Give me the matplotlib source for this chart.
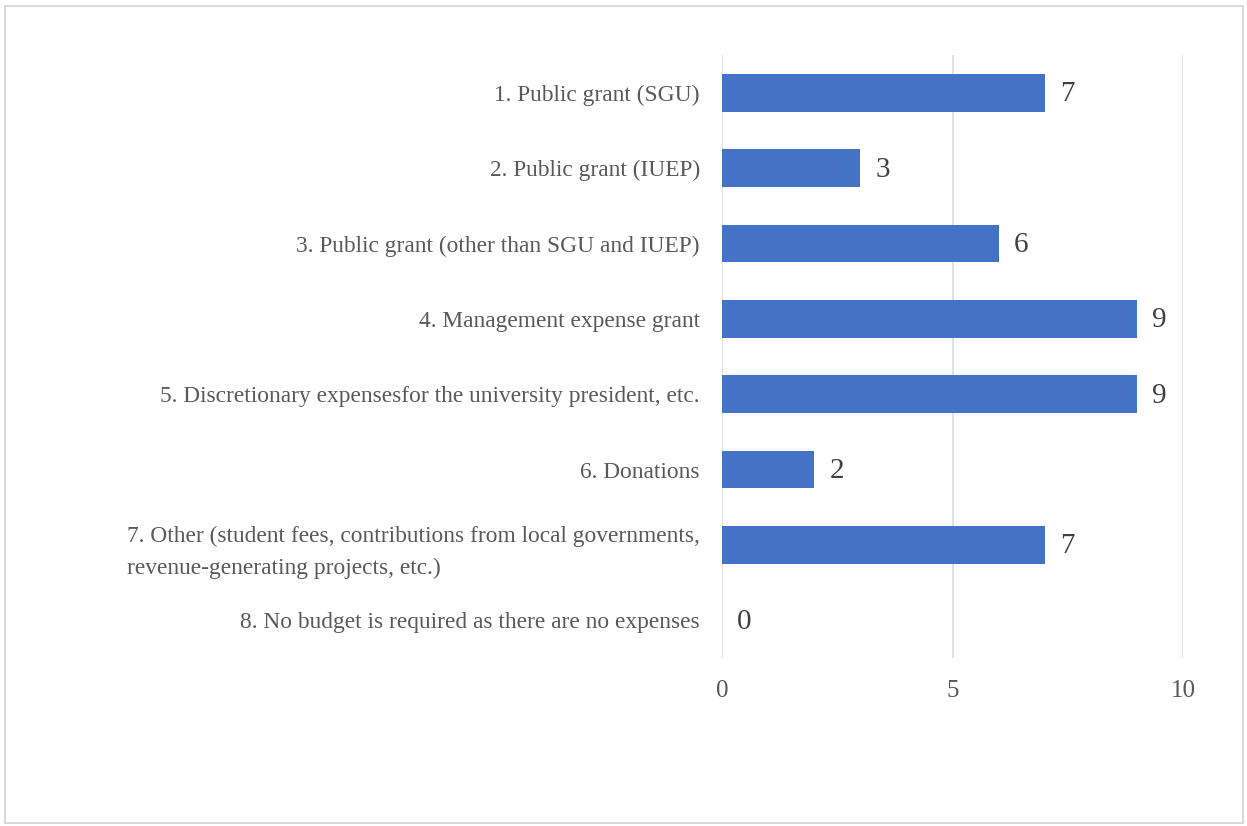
import matplotlib.pyplot as plt
from matplotlib.patches import Rectangle

categories = [
    '1. Public grant (SGU)',
    '2. Public grant (IUEP)',
    '3. Public grant (other than SGU and IUEP)',
    '4. Management expense grant',
    '5. Discretionary expensesfor the university president, etc.',
    '6. Donations',
    '7. Other (student fees, contributions from local governments,\nrevenue-generating projects, etc.)',
    '8. No budget is required as there are no expenses',
]
counts = [7, 3, 6, 9, 9, 2, 7, 0]
x_ticks = [0, 5, 10]

plt.rcParams['font.family'] = ['Liberation Serif', 'DejaVu Serif']

fig = plt.figure(figsize=(12.47, 8.26), dpi=100)
ax = fig.add_axes([0.579, 0.2034, 0.3697, 0.73])

pos = list(range(len(categories)))
ax.barh(pos, counts, height=0.5, color='#4472C4', zorder=3)
for y, v in zip(pos, counts):
    ax.text(v + 0.33, y + 0.02, str(v), va='center', ha='left', fontsize=21, color='#404040')

ax.set_xlim(0, 10)
ax.set_ylim(len(categories) - 0.5, -0.5)
ax.set_xticks(x_ticks)
ax.set_yticks(pos)
ax.set_yticklabels(categories)
for lbl in ax.get_yticklabels():
    lbl.set_multialignment('left')
    lbl.set_linespacing(1.65)
ax.tick_params(axis='y', length=0, pad=16, labelsize=16.8, labelcolor='#595959')
ax.tick_params(axis='x', length=0, pad=16, labelsize=18, labelcolor='#595959')
ax.grid(axis='x', color='#D9D9D9', linewidth=1.2, zorder=0)
for s in ax.spines.values():
    s.set_visible(False)

# light frame around the whole chart
fig.patches.append(Rectangle((0.004, 0.004), 0.993, 0.989, transform=fig.transFigure,
                             fill=False, edgecolor='#D9D9D9', linewidth=1.5))

fig.savefig('out.png', dpi=100)
